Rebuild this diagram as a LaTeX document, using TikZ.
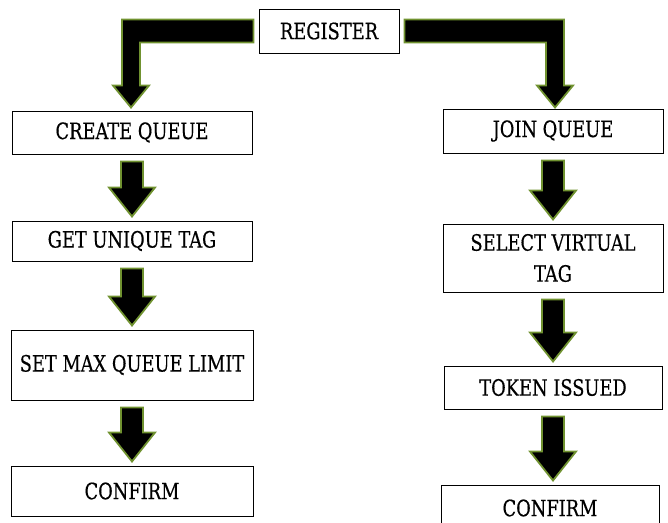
\documentclass[tikz,border=0pt]{standalone}
\usepackage{fontspec}
\setmainfont{DejaVu Serif Condensed}[FakeStretch=0.88,FakeBold=0.4]
\usetikzlibrary{positioning,calc}

\definecolor{olive}{RGB}{112,146,48}

% block arrow pointing down, from box #1 to box #2
\newcommand{\flowarrow}[2]{%
  \path[blk] let \p1=(#1.south), \p2=(#2.north) in
    (\x1-11pt,\y1-7pt) -- (\x1+11pt,\y1-7pt) -- (\x1+11pt,\y2+33pt)
    -- (\x1+23pt,\y2+33pt) -- (\x1,\y2+4pt) -- (\x1-23pt,\y2+33pt)
    -- (\x1-11pt,\y2+33pt) -- cycle;}

\begin{document}
\begin{tikzpicture}[
  x=1pt, y=1pt,
  node distance=66pt,
  box/.style={rectangle, draw, line width=1pt, align=center, inner sep=2pt,
    minimum width=240pt, minimum height=43pt, font=\fontsize{22.5}{25}\selectfont},
  blk/.style={fill=black, draw=olive, line width=1.8pt, line join=miter},
]
\useasboundingbox (0,0) rectangle (668,-522);

\node[box, minimum width=140pt, minimum height=44pt] (reg) at (329,-31) {REGISTER};

% left column
\node[box] (create) at (132,-132.5) {CREATE QUEUE};
\node[box, below=of create, minimum height=40pt] (tag) {GET UNIQUE TAG};
\node[box, below=68pt of tag, minimum width=242pt, minimum height=70pt] (limit) {SET MAX QUEUE LIMIT};
\node[box, below=65pt of limit, minimum width=242pt, minimum height=50pt] (confl) {CONFIRM};

% right column
\node[box, minimum width=220pt, minimum height=44pt] (join) at (553,-131) {JOIN QUEUE};
\node[box, below=70pt of join, minimum width=220pt, minimum height=68pt,
  font=\fontsize{22.5}{31}\selectfont] (select) {SELECT VIRTUAL\\TAG};
\node[box, below=73pt of select, minimum width=218pt] (token) {TOKEN ISSUED};
\node[box, below=75pt of token, xshift=-3pt, minimum width=218pt, minimum height=46pt] (confr) {CONFIRM};

% bent arrows from register
\path[blk] let \p1=(reg.west), \p2=(create.north) in
  (\x1-5pt,\y1+11.5pt) -- (\x2-10pt,\y1+11.5pt) -- (\x2-10pt,\y2+25pt)
  -- (\x2-19pt,\y2+25pt) -- (\x2-1pt,\y2+3pt) -- (\x2+17pt,\y2+25pt)
  -- (\x2+8pt,\y2+25pt) -- (\x2+8pt,\y1-11.5pt) -- (\x1-5pt,\y1-11.5pt) -- cycle;
\path[blk] let \p1=(reg.east), \p2=(join.north) in
  (\x1+5pt,\y1+11.5pt) -- (\x2+11pt,\y1+11.5pt) -- (\x2+11pt,\y2+23pt)
  -- (\x2+20pt,\y2+23pt) -- (\x2+2pt,\y2+1pt) -- (\x2-16pt,\y2+23pt)
  -- (\x2-7pt,\y2+23pt) -- (\x2-7pt,\y1-11.5pt) -- (\x1+5pt,\y1-11.5pt) -- cycle;

\flowarrow{create}{tag}
\flowarrow{tag}{limit}
\flowarrow{limit}{confl}
\flowarrow{join}{select}
\flowarrow{select}{token}
\flowarrow{token}{confr}
\end{tikzpicture}
\end{document}
